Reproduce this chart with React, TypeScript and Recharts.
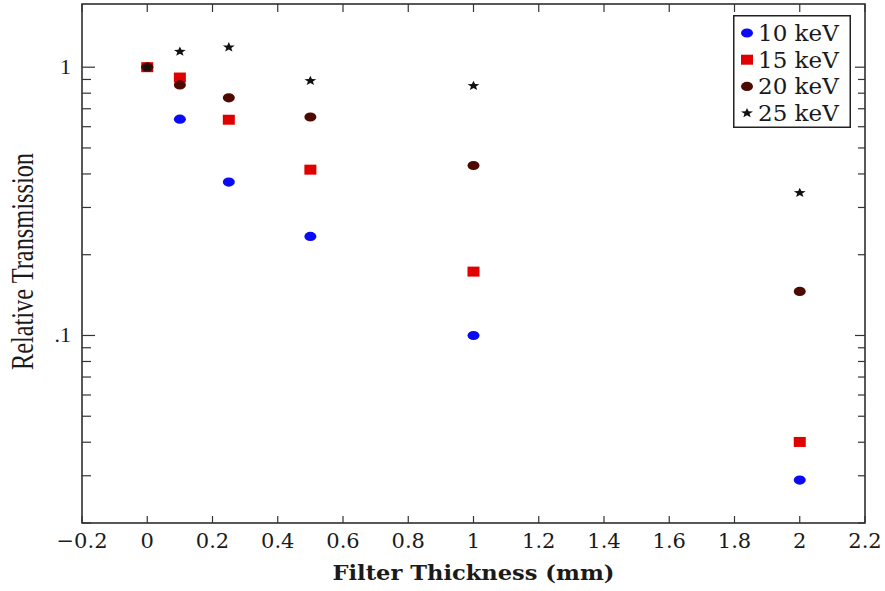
import React from 'react';
import { ScatterChart, Scatter, XAxis, YAxis, ReferenceArea, Legend } from 'recharts';

// Filter thickness (mm) for every measurement
const THICKNESS = [0, 0.1, 0.25, 0.5, 1, 2];

// Relative transmission per beam energy
const T_10KEV = [1, 0.64, 0.373, 0.234, 0.1, 0.0289];
const T_15KEV = [1, 0.915, 0.637, 0.415, 0.173, 0.0401];
const T_20KEV = [1, 0.859, 0.769, 0.652, 0.43, 0.146];
const T_25KEV = [1, 1.143, 1.187, 0.889, 0.852, 0.34];

const SERIES_NAMES = ['10 keV', '15 keV', '20 keV', '25 keV'];

const X_TICKS = [-0.2, 0, 0.2, 0.4, 0.6, 0.8, 1, 1.2, 1.4, 1.6, 1.8, 2, 2.2];
const Y_MAJOR = [0.1, 1];
const Y_MINOR = [0.02, 0.03, 0.04, 0.05, 0.06, 0.07, 0.08, 0.09, 0.2, 0.3, 0.4, 0.5, 0.6, 0.7, 0.8, 0.9];

// plot frame in pixels (chart is fixed size)
const W = 885;
const H = 591;
const PLOT = { left: 82, right: 865, top: 4, bottom: 523 };

const SERIF = '"DejaVu Serif", serif';
const TIMES = '"Liberation Serif", serif';
const INK = '#1a1a1a';

const STYLE = [
  { kind: 'circle', color: '#0a0af5' },
  { kind: 'square', color: '#e00000' },
  { kind: 'circle', color: '#4d0a00' },
  { kind: 'star', color: '#111111' },
];

const toPoints = (values: number[]) => THICKNESS.map((x, i) => ({ x, y: values[i] }));
const SERIES_DATA = [toPoints(T_10KEV), toPoints(T_15KEV), toPoints(T_20KEV), toPoints(T_25KEV)];

const starPoints = (cx: number, cy: number) => {
  const pts: string[] = [];
  for (let i = 0; i < 10; i++) {
    const a = (-90 + i * 36) * Math.PI / 180;
    const r = i % 2 === 0 ? 5.2 : 2.2;
    pts.push(`${cx + r * Math.cos(a) * 1.2},${cy + r * Math.sin(a)}`);
  }
  return pts.join(' ');
};

const Marker = ({ kind, cx, cy, color }: any) => {
  if (cx == null || cy == null) return null;
  if (kind === 'square') {
    return <rect x={cx - 6} y={cy - 5} width={12} height={10} fill={color} />;
  }
  if (kind === 'star') {
    return <polygon points={starPoints(cx, cy)} fill={color} />;
  }
  return <ellipse cx={cx} cy={cy} rx={6} ry={4.6} fill={color} />;
};

const formatX = (v: number) => (v < 0 ? `\u2212${Math.abs(v)}` : String(v));

const XTick = ({ x, payload }: any) => {
  const px = x;
  return (
    <g>
      <line x1={px} x2={px} y1={PLOT.bottom} y2={PLOT.bottom - 7} stroke="#333" strokeWidth={1.2} />
      <line x1={px} x2={px} y1={PLOT.top} y2={PLOT.top + 8} stroke="#333" strokeWidth={1.2} />
      <text x={px} y={548} textAnchor="middle" fontFamily={SERIF} fontSize={21} fill={INK}>
        {formatX(payload.value)}
      </text>
    </g>
  );
};

const YTick = ({ y, payload }: any) => {
  const major = Y_MAJOR.includes(payload.value);
  const len = major ? 13 : 9;
  const rlen = major ? 10 : 7;
  return (
    <g>
      <line x1={PLOT.left} x2={PLOT.left + len} y1={y} y2={y} stroke="#333" strokeWidth={1.2} />
      <line x1={PLOT.right - rlen} x2={PLOT.right} y1={y} y2={y} stroke="#333" strokeWidth={1.2} />
      {major && (
        <text x={71} y={y + 7} textAnchor="end" fontFamily={TIMES} fontSize={22} fill={INK}>
          {payload.value === 1 ? '1' : '.1'}
        </text>
      )}
    </g>
  );
};

const XLabel = () => (
  <text
    x={(PLOT.left + PLOT.right) / 2}
    y={580}
    textAnchor="middle"
    fontFamily={SERIF}
    fontWeight="bold"
    fontSize={21}
    fill={INK}
    textLength={282}
    lengthAdjust="spacingAndGlyphs"
  >
    Filter Thickness (mm)
  </text>
);

const YLabel = () => (
  <text
    x={33}
    y={261.5}
    transform="rotate(-90, 33, 261.5)"
    textAnchor="middle"
    fontFamily={TIMES}
    fontSize={32}
    fill={INK}
    textLength={217}
    lengthAdjust="spacingAndGlyphs"
  >
    Relative Transmission
  </text>
);

const LegendBox = () => (
  <svg width={118} height={113} style={{ display: 'block' }}>
    <rect x={0.75} y={0.75} width={116.5} height={111.5} fill="#fff" stroke="#222" strokeWidth={1.5} />
    {SERIES_NAMES.map((name, i) => {
      const cy = 18 + i * 26.7;
      return (
        <g key={name}>
          <Marker kind={STYLE[i].kind} cx={14} cy={cy} color={STYLE[i].color} />
          <text x={25} y={cy + 8} fontFamily={SERIF} fontSize={23} fill={INK}>
            {name}
          </text>
        </g>
      );
    })}
  </svg>
);

export default function App() {
  return (
    <div style={{ position: 'absolute', left: 0, top: 0, background: '#fff' }}>
      <ScatterChart width={W} height={H} margin={{ top: PLOT.top, right: W - PLOT.right, bottom: 0, left: 0 }}>
        <XAxis
          type="number"
          dataKey="x"
          domain={[-0.2, 2.2]}
          ticks={X_TICKS}
          interval={0}
          height={H - PLOT.bottom}
          axisLine={false}
          tickLine={false}
          tickSize={0}
          tickMargin={0}
          tick={<XTick />}
          label={<XLabel />}
        />
        <YAxis
          type="number"
          dataKey="y"
          scale="log"
          domain={[0.02, 1.72]}
          allowDataOverflow
          ticks={[...Y_MINOR, ...Y_MAJOR]}
          interval={0}
          width={PLOT.left}
          axisLine={false}
          tickLine={false}
          tickSize={0}
          tickMargin={0}
          tick={<YTick />}
          label={<YLabel />}
        />
        <ReferenceArea x1={-0.2} x2={2.2} y1={0.02} y2={1.72} fill="none" stroke="#222" strokeWidth={1.5} />
        <Legend
          layout="horizontal"
          align="center"
          verticalAlign="middle"
          content={<LegendBox />}
          wrapperStyle={{ position: 'absolute', left: 733, top: 15, width: 118, height: 113 }}
        />
        {SERIES_DATA.map((data, i) => (
          <Scatter
            key={SERIES_NAMES[i]}
            name={SERIES_NAMES[i]}
            data={data}
            fill={STYLE[i].color}
            isAnimationActive={false}
            shape={(p: any) => <Marker kind={STYLE[i].kind} cx={p.cx} cy={p.cy} color={STYLE[i].color} />}
          />
        ))}
      </ScatterChart>
    </div>
  );
}
